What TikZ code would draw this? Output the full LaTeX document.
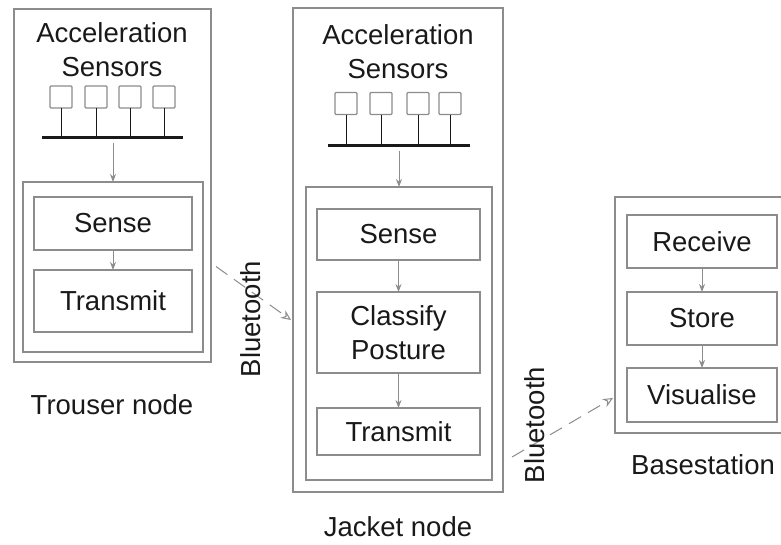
\documentclass[tikz,border=0pt]{standalone}
\usepackage{fontspec}
\setmainfont{Liberation Sans}
\usetikzlibrary{arrows.meta,positioning}

\definecolor{framegray}{RGB}{140,140,140}
\definecolor{textgray}{RGB}{25,25,25}

\tikzset{
  frame/.style={draw=framegray,line width=1.3pt,inner sep=0pt,outer sep=0pt},
  task/.style={frame,font=\fontsize{27.5}{34}\selectfont,text=textgray,align=center},
  sensor/.style={frame,line width=1.1pt,rounded corners=1pt,minimum width=22pt,minimum height=22pt},
  lbl/.style={font=\fontsize{27.5}{34}\selectfont,text=textgray,align=center,inner sep=0pt},
  flow/.style={framegray,line width=1pt,-{Stealth[length=8pt,width=6pt]}},
  radio/.style={draw=framegray,line width=1pt,dash pattern=on 14pt off 8pt,-{Stealth[length=10pt,width=9pt,open]}},
  bus/.style={line width=3pt,textgray},
}

\begin{document}
\begin{tikzpicture}[x=1pt,y=-1pt]
  \useasboundingbox (0,0) rectangle (781,544);

  % trouser node
  \node[frame,minimum width=197pt,minimum height=353pt] (t_outer) at (112.5,185.5) {};
  \node[lbl] (t_title) at (112,50) {Acceleration\\Sensors};
  \coordinate (t_bus_l) at (42,137);
  \coordinate (t_bus_r) at (183,137);
  \foreach \x [count=\i] in {61,96,130,164} {
    \node[sensor] (t_s\i) at (\x,97) {};
    \draw[textgray,line width=0.8pt] (t_s\i.south) -- (t_s\i.south |- t_bus_l);
  }
  \draw[bus] (t_bus_l) -- (t_bus_r);
  \coordinate (t_tap) at (113,143);
  \node[frame,minimum width=180pt,minimum height=170pt] (t_inner) at (113,267) {};
  \node[task,minimum width=158pt,minimum height=53pt] (t_sense) at (113,223.5) {Sense};
  \node[task,minimum width=158pt,minimum height=62pt] (t_trans) at (113,301) {Transmit};
  \node[lbl] (t_name) at (112,405) {Trouser node};

  % jacket node
  \node[frame,minimum width=210pt,minimum height=484pt] (j_outer) at (398,250) {};
  \node[lbl] (j_title) at (398,52) {Acceleration\\Sensors};
  \coordinate (j_bus_l) at (328,145);
  \coordinate (j_bus_r) at (470,145);
  \foreach \x [count=\i] in {346,381,418,450} {
    \node[sensor] (j_s\i) at (\x,103.5) {};
    \draw[textgray,line width=0.8pt] (j_s\i.south) -- (j_s\i.south |- j_bus_l);
  }
  \draw[bus] (j_bus_l) -- (j_bus_r);
  \coordinate (j_tap) at (399,151);
  \node[frame,minimum width=186pt,minimum height=293pt] (j_inner) at (399,333.5) {};
  \node[task,minimum width=163pt,minimum height=51pt] (j_sense) at (398.5,234.5) {Sense};
  \node[task,minimum width=163pt,minimum height=81pt] (j_class) at (398.5,332.5) {Classify\\Posture};
  \node[task,minimum width=163pt,minimum height=47pt] (j_trans) at (398.5,431.5) {Transmit};
  \node[lbl] (j_name) at (398,527) {Jacket node};

  % basestation
  \node[frame,minimum width=180pt,minimum height=236pt] (b_outer) at (705,315) {};
  \node[task,minimum width=150pt,minimum height=53pt] (b_recv) at (702,241.5) {Receive};
  \node[task,minimum width=150pt,minimum height=53pt] (b_store) at (702,318.5) {Store};
  \node[task,minimum width=150pt,minimum height=54pt] (b_vis) at (702,395) {Visualise};
  \node[lbl] (b_name) at (703,465) {Basestation};

  \path[flow]
  (t_tap) edge (t_inner.north)
  (t_sense) edge (t_trans)
  (j_tap) edge (j_inner.north)
  (j_sense) edge (j_class)
  (j_class) edge (j_trans)
  (b_recv) edge (b_store)
  (b_store) edge (b_vis);

  % radio links
  \draw[radio] ([xshift=5pt,yshift=-81pt]t_outer.east) -- ([xshift=-2pt,yshift=-70pt]j_outer.west);
  \draw[radio] ([xshift=9pt,yshift=-207pt]j_outer.east) -- ([xshift=-2pt,yshift=-83pt]b_outer.west);
  \node[lbl,rotate=90] (bt_1) at (251,319) {Bluetooth};
  \node[lbl,rotate=90] (bt_2) at (535,425) {Bluetooth};
\end{tikzpicture}
\end{document}
